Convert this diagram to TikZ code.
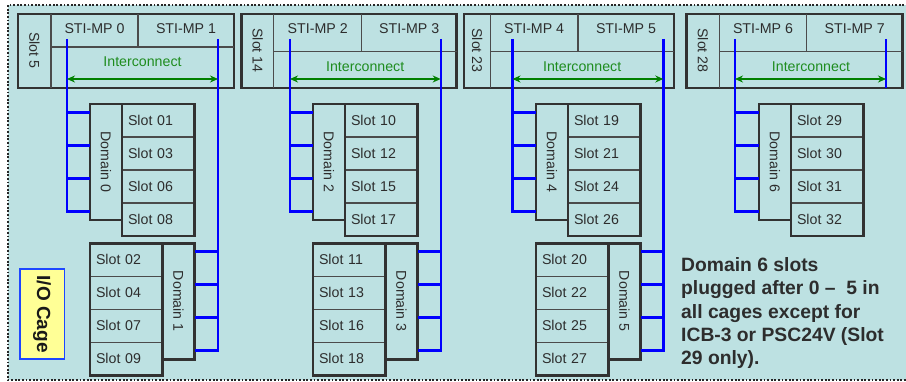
\documentclass[tikz,border=0pt]{standalone}
\usepackage{fontspec}
\setmainfont{Liberation Sans}
\usetikzlibrary{arrows.meta,calc}
\definecolor{bgc}{RGB}{189,225,226}
\definecolor{linec}{RGB}{50,50,50}
\definecolor{thinc}{RGB}{75,75,75}
\definecolor{txtc}{RGB}{45,45,45}
\definecolor{icgreen}{RGB}{30,140,30}
\definecolor{argreen}{RGB}{0,128,0}
\definecolor{bluec}{RGB}{0,0,255}
\definecolor{ioy}{RGB}{255,255,150}
\definecolor{iob}{RGB}{30,70,255}
\tikzset{
  reg/.style={font=\fontsize{14.2}{16}\selectfont, text=txtc, inner sep=0pt},
  blk/.style={draw=linec, line width=2.6pt, inner sep=0pt, outer sep=0pt},
  thinl/.style={draw=thinc, line width=1.4pt},
  slotc/.style={draw=thinc, line width=1.2pt, minimum width=72.5pt, minimum height=33pt,
     text width=60.5pt, inner xsep=6pt, inner ysep=0pt, outer sep=0pt, align=left,
     font=\fontsize{14.2}{16}\selectfont, text=txtc, anchor=north west},
  dombox/.style={blk, minimum width=32pt, minimum height=116pt, anchor=north west},
  bline/.style={draw=bluec, line width=2.4pt},
  icarrow/.style={draw=argreen, line width=2pt, {Stealth[length=8pt,width=7pt]}-{Stealth[length=8pt,width=7pt]}},
  icnote/.style={font=\fontsize{19.3}{23.3}\selectfont\bfseries, text=txtc, align=left, inner sep=0pt},
}
% #1 name, #2 left x, #3 width, #4 slot col width, #5 divider offset, #6 hline y, #7 slot label, #8 #9 STI labels
\newcommand\TopBlock[9]{%
  \node[blk, minimum width=#3pt, minimum height=74pt, anchor=north west] (#1) at (#2,14) {};
  \draw[thinl] ({#2+#4},14) -- ({#2+#4},88);
  \draw[thinl] ({#2+#4},#6) -- ({#2+#3},#6);
  \draw[thinl] ({#2+#5},14) -- ({#2+#5},#6);
  \node[reg, rotate=-90] (#1-s) at ({#2+#4/2},50.5) {#7};
  \node[reg] (#1-a) at ({#2+(#4+#5)/2},28.5) {#8};
  \node[reg] (#1-b) at ({#2+(#5+#3)/2},28.5) {#9};
  \node[reg, text=icgreen] (#1-i) at ({#2+(#4+#3)/2},{#6+14.5}) {Interconnect};
}
% upper domain: #1 name, #2 left x, #3 label, #4-#7 slots
\newcommand\UpDomain[7]{%
  \node[dombox] (#1) at (#2,104) {};
  \node[reg, rotate=-90] (#1-t) at (#1.center) {#3};
  \node[slotc] (#1-1) at ({#2+32},104) {#4};
  \node[slotc] (#1-2) at (#1-1.south west) {#5};
  \node[slotc] (#1-3) at (#1-2.south west) {#6};
  \node[slotc] (#1-4) at (#1-3.south west) {#7};
  \draw[blk] (#1-1.north west) rectangle (#1-4.south east);
}
% lower domain
\newcommand\LowDomain[7]{%
  \node[slotc] (#1-1) at (#2,243.3) {#4};
  \node[slotc] (#1-2) at (#1-1.south west) {#5};
  \node[slotc] (#1-3) at (#1-2.south west) {#6};
  \node[slotc] (#1-4) at (#1-3.south west) {#7};
  \draw[blk] (#1-1.north west) rectangle (#1-4.south east);
  \node[dombox] (#1) at ({#2+72.5},243.3) {};
  \node[reg, rotate=-90] (#1-t) at (#1.center) {#3};
}
\begin{document}
\begin{tikzpicture}[x=1pt,y=-1pt]
\useasboundingbox (0,0) rectangle (906,382);
\fill[bgc] (8,5) rectangle (915,380);
\draw[line width=1.8pt, dash pattern=on 1.8pt off 1.8pt, black!85] (915,5) -- (8,5) -- (8,380) -- (915,380);

\TopBlock{ta}{18}{216}{33}{120}{47}{Slot 5}{STI-MP 0}{STI-MP 1}
\TopBlock{tb}{241.7}{215}{32}{120}{51.7}{Slot 14}{STI-MP 2}{STI-MP 3}
\TopBlock{tc}{464}{210}{26.3}{114}{51.7}{Slot 23}{STI-MP 4}{STI-MP 5}
\TopBlock{td}{686.7}{216}{32.6}{120}{51.7}{Slot 28}{STI-MP 6}{STI-MP 7}

\UpDomain{d0}{90}{Domain 0}{Slot 01}{Slot 03}{Slot 06}{Slot 08}
\UpDomain{d2}{313}{Domain 2}{Slot 10}{Slot 12}{Slot 15}{Slot 17}
\UpDomain{d4}{536}{Domain 4}{Slot 19}{Slot 21}{Slot 24}{Slot 26}
\UpDomain{d6}{759}{Domain 6}{Slot 29}{Slot 30}{Slot 31}{Slot 32}

\LowDomain{d1}{90}{Domain 1}{Slot 02}{Slot 04}{Slot 07}{Slot 09}
\LowDomain{d3}{313}{Domain 3}{Slot 11}{Slot 13}{Slot 16}{Slot 18}
\LowDomain{d5}{536}{Domain 5}{Slot 20}{Slot 22}{Slot 25}{Slot 27}

% trunk tops
\coordinate (la) at (67,39);   \coordinate (ra) at (218,39);
\coordinate (lb) at (290,39);  \coordinate (rb) at (440.7,39);
\coordinate (lc) at (512.5,39); \coordinate (rc) at (663.3,39);
\coordinate (ld) at (735,39);  \coordinate (rd) at (886,39);
\coordinate (ay) at (0,79);

% connectors
\foreach \L/\R/\U/\D/\T in {la/ra/d0/d1/ta, lb/rb/d2/d3/tb, lc/rc/d4/d5/tc}{
  \foreach \k in {1,2,3}{
    \path ($(\U-\k.west)+(0,-8)$) coordinate (ub\k);
    \draw[bline] (\L |- ub\k) -- (\U.west |- ub\k);
    \path ($(\D-\k.east)+(0,-8.3)$) coordinate (lb\k);
    \draw[bline] (\R |- lb\k) -- (\D.east |- lb\k);
  }
  \path ($(\U-4.west)+(0,-8)$) coordinate (ub4);
  \draw[bline] (\L) |- (\U.west |- ub4);
  \path ($(\D-4.east)+(0,-8.3)$) coordinate (lb4);
  \draw[bline] (\R) |- (\D.east |- lb4);
  \draw[icarrow] (\L |- ay) -- (\R |- ay);
}
\foreach \k in {1,2,3}{
  \path ($(d6-\k.west)+(0,-8)$) coordinate (ub\k);
  \draw[bline] (ld |- ub\k) -- (d6.west |- ub\k);
}
\path ($(d6-4.west)+(0,-8)$) coordinate (ub4);
\draw[bline] (ld) |- (d6.west |- ub4);
\draw[bline] (rd) -- (rd |- td.south);
\draw[icarrow] (ld |- ay) -- (rd |- ay);

% I/O cage label
\node[draw=iob, fill=ioy, line width=1.5pt, minimum width=44.7pt, minimum height=90pt, anchor=north west, inner sep=0pt] (io) at (19,268.3) {};
\node[rotate=-90, font=\fontsize{19}{20}\selectfont\bfseries, text=black!90, inner sep=0pt] (iot) at (io.center) {I/O Cage};

% note
\node[icnote, anchor=north west] (note) at (681,257.3) {Domain 6 slots\\plugged after 0 \textendash\ \ 5 in\\all cages except for\\ICB-3 or PSC24V (Slot\\29 only).};
\end{tikzpicture}
\end{document}
